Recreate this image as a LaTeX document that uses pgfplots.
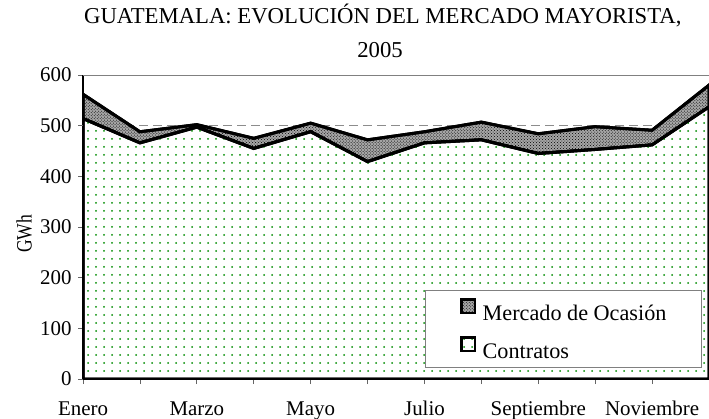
\documentclass[border=0pt]{standalone}
\usepackage{fontspec}
\setmainfont{Liberation Serif}
\newfontfamily\gwhfont{Liberation Serif}[FakeStretch=0.8]
\usepackage{pgfplots}
\usepackage{pgfplotstable}
\pgfplotsset{compat=1.18}
\usetikzlibrary{patterns,patterns.meta}

\pgfplotstableread{
m con mer
0 514 48
1 466 22
2 497 5
3 455 20
4 488 17
5 429 43
6 466 22
7 472 35
8 445 39
9 453 45
10 462 29
11 537 43
}\datatable

\begin{document}
\begin{tikzpicture}
\begin{axis}[
  name=ax, scale only axis, width=626bp, height=304bp,
  xmin=0, xmax=11, ymin=0, ymax=600,
  stack plots=y,
  axis x line*=bottom, axis y line*=left,
  axis line style={black, line width=1.6bp},
  tick align=outside, major tick length=5bp,
  tick style={black!60, line width=0.8bp},
  xtick={0,...,11},
  xticklabels={Enero,,Marzo,,Mayo,,Julio,,Septiembre,,Noviembre,},
  ytick={0,100,...,600},
  extra y ticks={500}, extra y tick labels={},
  extra y tick style={grid=major, major grid style={black!45, dash pattern=on 9bp off 5bp, line width=1.4bp}},
  /pgf/number format/assume math mode=true,
  ticklabel style={font=\fontsize{21}{24}\selectfont},
  xticklabel style={anchor=base, yshift=-31.5bp},
  yticklabel style={xshift=-3bp},
  ylabel={GWh},
  ylabel style={font=\gwhfont\fontsize{22}{24}\selectfont, at={(axis description cs:-0.094,0.477)}, anchor=center},
  title={GUATEMALA: EVOLUCIÓN DEL MERCADO MAYORISTA,},
  title style={font=\fontsize{22.8}{26}\selectfont, at={(axis description cs:0.479,1.151)}, anchor=base},
  legend style={at={(0.9888,0.0362)}, anchor=south east, draw=black!50, line width=1bp, fill=white,
    font=\fontsize{22.3}{26}\selectfont, inner xsep=35bp, inner ysep=8bp, row sep=14bp,
    nodes={inner sep=0pt}, column sep=6.5bp, cells={anchor=west}},
  reverse legend,
  legend image code/.code={\draw[#1, draw=black, line width=2.6bp] (0bp,0.5bp) rectangle (13.5bp,14bp);},
]
\addplot[draw=black, line width=3bp, fill=white,
  postaction={pattern={Dots[distance=8bp, radius=1bp]}, pattern color=green!55!black}]
  table[x=m, y=con] {\datatable} \closedcycle;
\addlegendentry{Contratos}
\addplot[draw=black, line width=3bp, fill=black!35,
  postaction={pattern=crosshatch dots, pattern color=black}]
  table[x=m, y=mer] {\datatable} \closedcycle;
\addlegendentry{Mercado de Ocasión}
\draw[black!50, line width=2.2bp] (rel axis cs:0,1) -- (rel axis cs:1,1);
\end{axis}
\node[anchor=base, font=\fontsize{22.8}{26}\selectfont] at ([shift={(297bp,18bp)}]ax.north west) {2005};
\pgfresetboundingbox
\path ([shift={(-83bp,-40bp)}]ax.south west) rectangle ([shift={(0bp,75bp)}]ax.north east);
\end{tikzpicture}
\end{document}
